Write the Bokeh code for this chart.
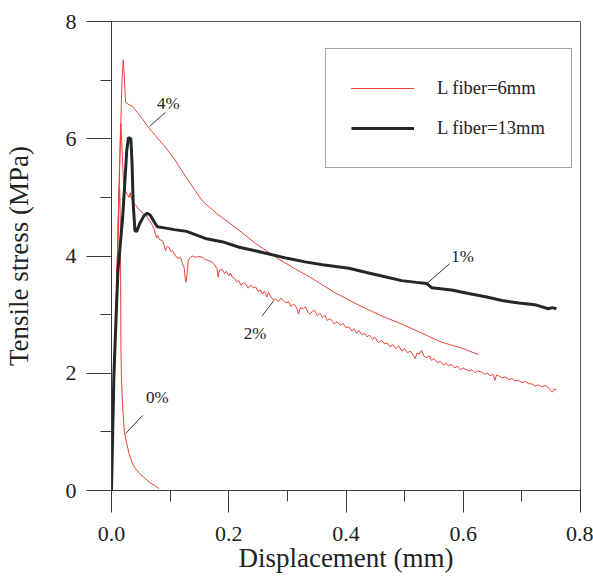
from bokeh.plotting import figure
from bokeh.models import (Range1d, SingleIntervalTicker, PrintfTickFormatter,
                          Legend, LegendItem, Label)
from bokeh.embed import file_html
from bokeh.resources import INLINE

# ---------------- data ----------------
# 4 % fibre, L=6 mm (red)
x4 = [0, 0.005, 0.010, 0.015, 0.018, 0.020, 0.022, 0.024, 0.030, 0.036, 0.040,
      0.044, 0.052, 0.061, 0.075, 0.090, 0.107, 0.130, 0.155, 0.180, 0.211,
      0.245, 0.280, 0.310, 0.342, 0.380, 0.420, 0.460, 0.495, 0.530, 0.563,
      0.580, 0.600, 0.615, 0.626]
y4 = [0, 1.8, 3.9, 6.0, 7.0, 7.35, 7.05, 6.62, 6.58, 6.55, 6.50,
      6.45, 6.35, 6.22, 6.05, 5.88, 5.66, 5.30, 4.94, 4.72, 4.49,
      4.22, 3.98, 3.80, 3.62, 3.38, 3.17, 2.98, 2.84, 2.68, 2.53,
      2.48, 2.42, 2.36, 2.32]

# 1 % fibre, L=13 mm (black)
x1 = [0, 0.004, 0.008, 0.011, 0.015, 0.019, 0.023, 0.026, 0.029, 0.033, 0.035,
      0.037, 0.040, 0.043, 0.048, 0.055, 0.061, 0.066, 0.073, 0.078, 0.090,
      0.107, 0.128, 0.160, 0.190, 0.218, 0.245, 0.274, 0.300, 0.330, 0.360,
      0.405, 0.435, 0.461, 0.495, 0.520, 0.538, 0.546, 0.580, 0.609, 0.640,
      0.666, 0.695, 0.722, 0.745, 0.752, 0.759]
y1 = [0, 1.95, 3.0, 3.75, 4.2, 4.66, 5.3, 5.8, 6.02, 6.0, 5.6,
      4.9, 4.43, 4.42, 4.55, 4.68, 4.73, 4.70, 4.58, 4.50, 4.48,
      4.45, 4.42, 4.30, 4.24, 4.15, 4.09, 4.02, 3.96, 3.90, 3.85,
      3.79, 3.72, 3.66, 3.58, 3.55, 3.53, 3.46, 3.42, 3.36, 3.30,
      3.24, 3.20, 3.17, 3.10, 3.12, 3.10]

# 2 % fibre, L=6 mm (red, noisy)
x2 = [0, 0.005, 0.010, 0.014, 0.016, 0.018, 0.020, 0.022, 0.024, 0.027, 0.030,
      0.032, 0.034, 0.036, 0.039, 0.042, 0.046, 0.050, 0.054, 0.058, 0.061,
      0.065, 0.070, 0.073, 0.075, 0.077, 0.079, 0.082, 0.087, 0.090, 0.092,
      0.095, 0.098, 0.101, 0.104, 0.107, 0.111, 0.115, 0.118, 0.121, 0.124,
      0.126, 0.127, 0.129, 0.131, 0.134, 0.138, 0.143, 0.148, 0.155, 0.160,
      0.166, 0.172, 0.176, 0.180, 0.182, 0.184, 0.189, 0.193, 0.196, 0.200,
      0.203, 0.206, 0.210, 0.213, 0.217, 0.221, 0.225, 0.229, 0.233, 0.237,
      0.242, 0.246, 0.250, 0.254, 0.257, 0.261, 0.265, 0.268, 0.272, 0.276,
      0.280, 0.284, 0.289, 0.293, 0.297, 0.302, 0.306, 0.310, 0.314, 0.317,
      0.319, 0.322, 0.327, 0.331, 0.335, 0.339, 0.343, 0.347, 0.351, 0.356,
      0.360, 0.364, 0.368, 0.372, 0.376, 0.380, 0.385, 0.390, 0.395, 0.400,
      0.405, 0.410, 0.414, 0.418, 0.422, 0.427, 0.432, 0.436, 0.440, 0.445,
      0.450, 0.455, 0.461, 0.466, 0.470, 0.475, 0.480, 0.485, 0.490, 0.495,
      0.500, 0.505, 0.510, 0.515, 0.518, 0.521, 0.525, 0.529, 0.533, 0.538,
      0.542, 0.546, 0.550, 0.556, 0.561, 0.566, 0.570, 0.575, 0.580, 0.585,
      0.590, 0.595, 0.600, 0.603, 0.610, 0.615, 0.620, 0.625, 0.631, 0.636,
      0.641, 0.646, 0.651, 0.654, 0.657, 0.660, 0.666, 0.672, 0.678, 0.683,
      0.688, 0.694, 0.700, 0.706, 0.712, 0.717, 0.722, 0.728, 0.734, 0.740,
      0.745, 0.748, 0.752, 0.755, 0.759]
y2 = [0, 2.0, 4.0, 5.6, 6.26, 5.8, 5.35, 5.2, 5.11, 5.05, 5.0,
      5.08, 4.97, 4.95, 4.89, 4.86, 4.80, 4.77, 4.72, 4.70, 4.66,
      4.60, 4.52, 4.45, 4.36, 4.31, 4.35, 4.28, 4.26, 4.18, 4.09,
      4.16, 4.15, 4.08, 4.09, 4.04, 3.98, 3.96, 3.98, 3.87, 3.80,
      3.60, 3.55, 3.70, 3.92, 3.97, 4.00, 3.98, 3.99, 3.98, 3.94,
      3.92, 3.89, 3.85, 3.78, 3.64, 3.76, 3.77, 3.70, 3.74, 3.66,
      3.71, 3.64, 3.62, 3.56, 3.58, 3.50, 3.55, 3.52, 3.45, 3.50,
      3.46, 3.47, 3.40, 3.42, 3.35, 3.40, 3.30, 3.38, 3.30, 3.25,
      3.27, 3.22, 3.28, 3.24, 3.20, 3.22, 3.14, 3.18, 3.15, 3.08,
      3.01, 3.12, 3.10, 3.13, 3.04, 3.01, 3.06, 3.07, 2.98, 3.02,
      2.95, 2.99, 2.90, 2.93, 2.90, 2.84, 2.88, 2.82, 2.85, 2.78,
      2.79, 2.72, 2.76, 2.68, 2.73, 2.66, 2.68, 2.62, 2.65, 2.58,
      2.61, 2.52, 2.56, 2.50, 2.52, 2.45, 2.49, 2.42, 2.47, 2.38,
      2.42, 2.35, 2.38, 2.30, 2.25, 2.34, 2.33, 2.39, 2.29, 2.26,
      2.30, 2.22, 2.25, 2.18, 2.20, 2.14, 2.17, 2.13, 2.15, 2.09,
      2.12, 2.06, 2.09, 2.07, 2.04, 2.06, 2.01, 2.04, 2.02, 1.98,
      2.00, 1.96, 1.98, 1.88, 1.97, 1.96, 1.92, 1.94, 1.89, 1.91,
      1.87, 1.88, 1.84, 1.86, 1.82, 1.82, 1.78, 1.80, 1.77, 1.79,
      1.76, 1.72, 1.68, 1.73, 1.72]

# 0 % fibre (red)
x0 = [0, 0.006, 0.011, 0.013, 0.014, 0.015, 0.0155, 0.016, 0.017, 0.019,
      0.022, 0.026, 0.030, 0.035, 0.041, 0.050, 0.058, 0.066, 0.073, 0.081]
y0 = [0, 2.4, 4.4, 5.1, 5.15, 4.6, 3.75, 2.5, 1.88, 1.45,
      0.99, 0.80, 0.63, 0.48, 0.37, 0.27, 0.20, 0.13, 0.09, 0.03]

# curve labels: text, label position, leader start (on curve), leader end
lab_text = ["4%", "1%", "2%", "0%"]
lab_x = [0.097, 0.599, 0.245, 0.078]
lab_y = [6.60, 3.99, 2.68, 1.59]
lead_x0 = [0.065, 0.538, 0.277, 0.024]
lead_y0 = [6.21, 3.53, 3.24, 0.97]
lead_x1 = [0.092, 0.577, 0.257, 0.053]
lead_y1 = [6.45, 3.87, 2.98, 1.28]

legend_labels = ["L fiber=6mm", "L fiber=13mm"]
x_label = "Displacement (mm)"
y_label = "Tensile stress (MPa)"

# ---------------- styling ----------------
SERIF = "Liberation Serif"
RED = "#e8433a"
BLACK = "#222828"
AX = "#3a3a3a"

p = figure(width=593, height=581, output_backend="svg", toolbar_location=None,
           x_range=Range1d(0, 0.8), y_range=Range1d(0, 8),
           min_border_left=109, min_border_right=13,
           min_border_top=21, min_border_bottom=91)
p.background_fill_color = "white"
p.border_fill_color = "white"
p.outline_line_color = "#555555"
p.outline_line_width = 1
p.xgrid.visible = False
p.ygrid.visible = False

r4 = p.line(x4, y4, line_color=RED, line_width=1)
r2 = p.line(x2, y2, line_color=RED, line_width=1)
r0 = p.line(x0, y0, line_color=RED, line_width=1)
r1 = p.line(x1, y1, line_color=BLACK, line_width=3)

p.segment(lead_x0, lead_y0, lead_x1, lead_y1, line_color="#333333", line_width=1)
for t, lx, ly in zip(lab_text, lab_x, lab_y):
    p.add_layout(Label(x=lx, y=ly, text=t, text_align="center",
                       text_baseline="middle", text_font=SERIF,
                       text_font_size="17px", text_color="#222222"))

xa = p.xaxis[0]
xa.ticker = SingleIntervalTicker(interval=0.2, num_minor_ticks=2)
xa.formatter = PrintfTickFormatter(format="%.1f")
ya = p.yaxis[0]
ya.ticker = SingleIntervalTicker(interval=2, num_minor_ticks=2)
ya.formatter = PrintfTickFormatter(format="%d")

for ax in (xa, ya):
    ax.axis_line_color = AX
    ax.major_tick_line_color = AX
    ax.minor_tick_line_color = AX
    ax.major_tick_in = 0
    ax.minor_tick_in = 0
    ax.minor_tick_out = 11
    ax.major_label_text_font = SERIF
    ax.major_label_text_font_size = "22px"
    ax.major_label_text_color = "#222222"
    ax.axis_label_text_font = SERIF
    ax.axis_label_text_font_size = "27px"
    ax.axis_label_text_font_style = "normal"
    ax.axis_label_text_color = "#222222"

xa.axis_label = x_label
xa.major_tick_out = 22
xa.major_label_standoff = 14
xa.axis_label_standoff = -1
ya.axis_label = y_label
ya.major_tick_out = 25
ya.major_label_standoff = 10
ya.axis_label_standoff = 29

legend = Legend(items=[LegendItem(label=legend_labels[0], renderers=[r4, r2, r0]),
                       LegendItem(label=legend_labels[1], renderers=[r1])],
                location=(214, 322), orientation="vertical",
                padding=25, spacing=12, margin=0,
                glyph_width=63, glyph_height=28, label_height=28,
                label_width=109, label_standoff=23,
                label_text_font=SERIF, label_text_font_size="18.5px",
                label_text_color="#222222", label_text_baseline="middle",
                border_line_color="#444444", border_line_width=1,
                background_fill_color="white", background_fill_alpha=1)
p.add_layout(legend, "center")

open("out.html", "w").write(file_html(p, INLINE))
